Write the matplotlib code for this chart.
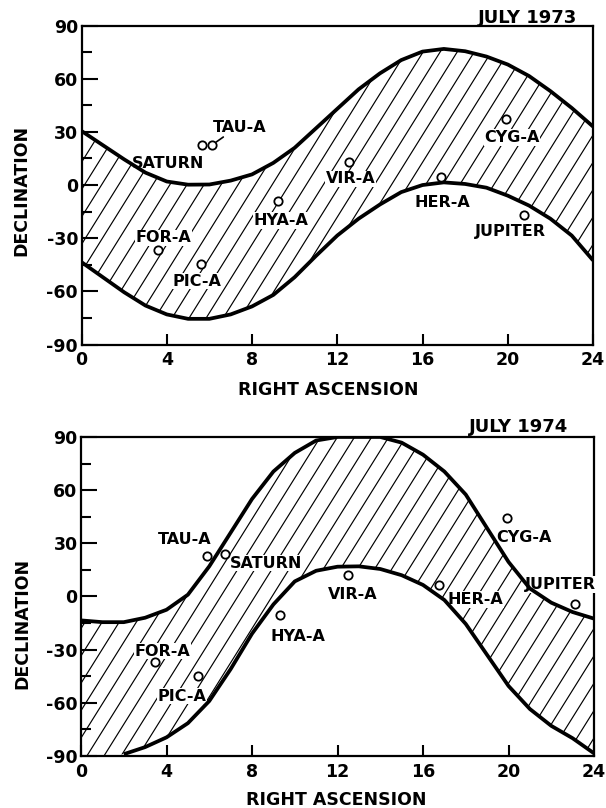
import numpy as np
import matplotlib.pyplot as plt
from matplotlib.patches import Polygon
from matplotlib.collections import LineCollection

plt.rcParams['font.family'] = ['DejaVu Sans']
plt.rcParams['font.weight'] = 'bold'
plt.rcParams['axes.labelweight'] = 'bold'
plt.rcParams['axes.unicode_minus'] = False

# right ascension grid (hours) for the band edges
ra_hours = np.arange(0, 25)

# declination limits of the observable band
upper_1973 = [30.5, 22.5, 14.5, 7.0, 2.0, 0.2, 0.3, 2.5, 6.0, 12.5, 21.0, 32.0, 43.0,
              54.0, 63.0, 70.5, 75.3, 76.8, 75.5, 72.5, 68.0, 61.5, 53.0, 43.5, 33.0]
lower_1973 = [-43.5, -52.0, -60.5, -68.0, -73.0, -75.5, -75.5, -73.0, -68.5, -62.0, -52.0,
              -40.0, -28.5, -19.0, -11.0, -4.0, 0.0, 1.5, 0.6, -1.5, -6.0, -11.6, -19.0,
              -28.5, -42.5]
upper_1974 = [-13.5, -14.5, -14.5, -12.0, -7.5, 1.0, 17.0, 36.0, 55.0, 70.5, 81.0, 88.0,
              90.0, 90.0, 90.0, 86.8, 80.0, 70.5, 57.5, 38.5, 19.5, 4.5, -3.5, -8.8, -12.5]
lower_1974 = [-90.0, -90.0, -89.0, -85.0, -79.5, -71.5, -59.0, -41.0, -21.0, -4.5, 8.5,
              14.5, 16.8, 17.0, 15.5, 12.0, 6.5, -2.0, -15.5, -33.0, -50.5, -63.5, -73.0,
              -80.0, -88.5]

# radio sources and planets
sources = ['SATURN', 'TAU-A', 'FOR-A', 'PIC-A', 'HYA-A', 'VIR-A', 'HER-A', 'CYG-A', 'JUPITER']
ra_1973 = [5.64, 6.11, 3.58, 5.60, 9.24, 12.53, 16.86, 19.93, 20.77]
dec_1973 = [22.5, 22.5, -36.6, -44.4, -8.8, 12.8, 4.3, 37.1, -16.9]
ra_1974 = [6.74, 5.88, 3.46, 5.46, 9.31, 12.47, 16.76, 19.94, 23.10]
dec_1974 = [24.1, 23.0, -37.2, -44.8, -10.3, 12.2, 6.6, 44.2, -4.1]

# where each name is written (data coords)
label_xy_1973 = [(4.06, 13.2), (7.40, 33.4), (3.83, -29.0), (5.42, -53.4), (9.36, -19.1),
                 (12.64, 4.3), (16.95, -8.8), (20.20, 27.7), (20.12, -25.2)]
label_xy_1974 = [(8.68, 19.7), (4.86, 33.0), (3.81, -30.0), (4.71, -55.5), (10.16, -21.6),
                 (12.70, 1.9), (18.47, -0.9), (20.71, 33.9), (22.44, 7.6)]

x_ticks = list(range(0, 25, 4))
y_ticks = list(range(-90, 91, 30))
y_ticklabels = ['-90', '-60', '-30', '0', '30', '60', '90']


def hatch_band(ax, x, lo, hi, spacing=0.8, slope=19.3):
    """Fill the band between lo and hi with steep diagonal lines"""
    verts = np.vstack([np.column_stack([x, hi]),
                       np.column_stack([x[::-1], lo[::-1]])])
    clip = Polygon(verts, closed=True, facecolor='none', edgecolor='none')
    ax.add_patch(clip)
    run = 180.0 / slope
    starts = np.arange(-run, 24 + spacing, spacing)
    segs = [[(s, -90), (s + run, 90)] for s in starts]
    lc = LineCollection(segs, colors='black', linewidths=0.85, zorder=2)
    ax.add_collection(lc, autolim=False)
    lc.set_clip_path(clip)


def draw_panel(ax, upper, lower, ras, decs, label_xy, title, title_xy,
               xlabel_xy, ylabel_xy, leader=None):
    upper = np.array(upper)
    lower = np.array(lower)
    hatch_band(ax, ra_hours, lower, upper)

    ax.plot(ra_hours, upper, color='black', lw=2.7, zorder=5, solid_capstyle='butt')
    ax.plot(ra_hours, np.ma.masked_where(lower <= -90, lower), color='black', lw=2.7,
            zorder=5, solid_capstyle='butt')

    ax.plot(ras, decs, 'o', ms=6, mfc='white', mec='black', mew=1.3, zorder=6)
    for name, (lx, ly) in zip(sources, label_xy):
        ax.text(lx, ly, name, ha='center', va='center_baseline', fontsize=11.5,
                zorder=4, bbox=dict(facecolor='white', edgecolor='none', pad=0.5))
    if leader is not None:
        i = sources.index(leader)
        ax.annotate('', xy=(ras[i], decs[i]), xytext=label_xy[i],
                    arrowprops=dict(arrowstyle='-', lw=1.2, color='black',
                                    shrinkA=14, shrinkB=4), zorder=6)

    ax.set_xlim(0, 24)
    ax.set_ylim(-90, 90)
    ax.set_xticks(x_ticks)
    ax.set_yticks(y_ticks)
    ax.set_yticklabels(y_ticklabels)
    ax.set_yticks(list(range(-75, 90, 30)), minor=True)
    ax.tick_params(axis='both', which='both', direction='in', width=1.5,
                   labelsize=12.5, top=False, right=False)
    ax.tick_params(axis='y', which='major', length=11.5, pad=2.5)
    ax.tick_params(axis='y', which='minor', length=7.2)
    ax.tick_params(axis='x', which='major', length=8, pad=5)
    for sp in ax.spines.values():
        sp.set_linewidth(1.6)

    ax.set_xlabel('RIGHT ASCENSION', fontsize=12.5, fontweight='bold', va='top')
    ax.xaxis.set_label_coords(*xlabel_xy)
    ax.set_ylabel('DECLINATION', fontsize=12.5, fontweight='bold')
    ax.yaxis.set_label_coords(*ylabel_xy)
    ax.text(title_xy[0], title_xy[1], title, transform=ax.transAxes,
            ha='right', va='baseline', fontsize=13)


fig = plt.figure(figsize=(6.06, 8.08), dpi=100)
ax1 = fig.add_axes([0.1345, 0.5736, 0.8441, 0.3948])
ax2 = fig.add_axes([0.1337, 0.0644, 0.8465, 0.3948])

draw_panel(ax1, upper_1973, lower_1973, ra_1973, dec_1973, label_xy_1973,
           'JULY 1973', (0.969, 1.007), (0.482, -0.114), (-0.099, 0.484), leader='TAU-A')
draw_panel(ax2, upper_1974, lower_1974, ra_1974, dec_1974, label_xy_1974,
           'JULY 1974', (0.950, 1.017), (0.498, -0.110), (-0.096, 0.417))

fig.savefig('out.png', dpi=100)
